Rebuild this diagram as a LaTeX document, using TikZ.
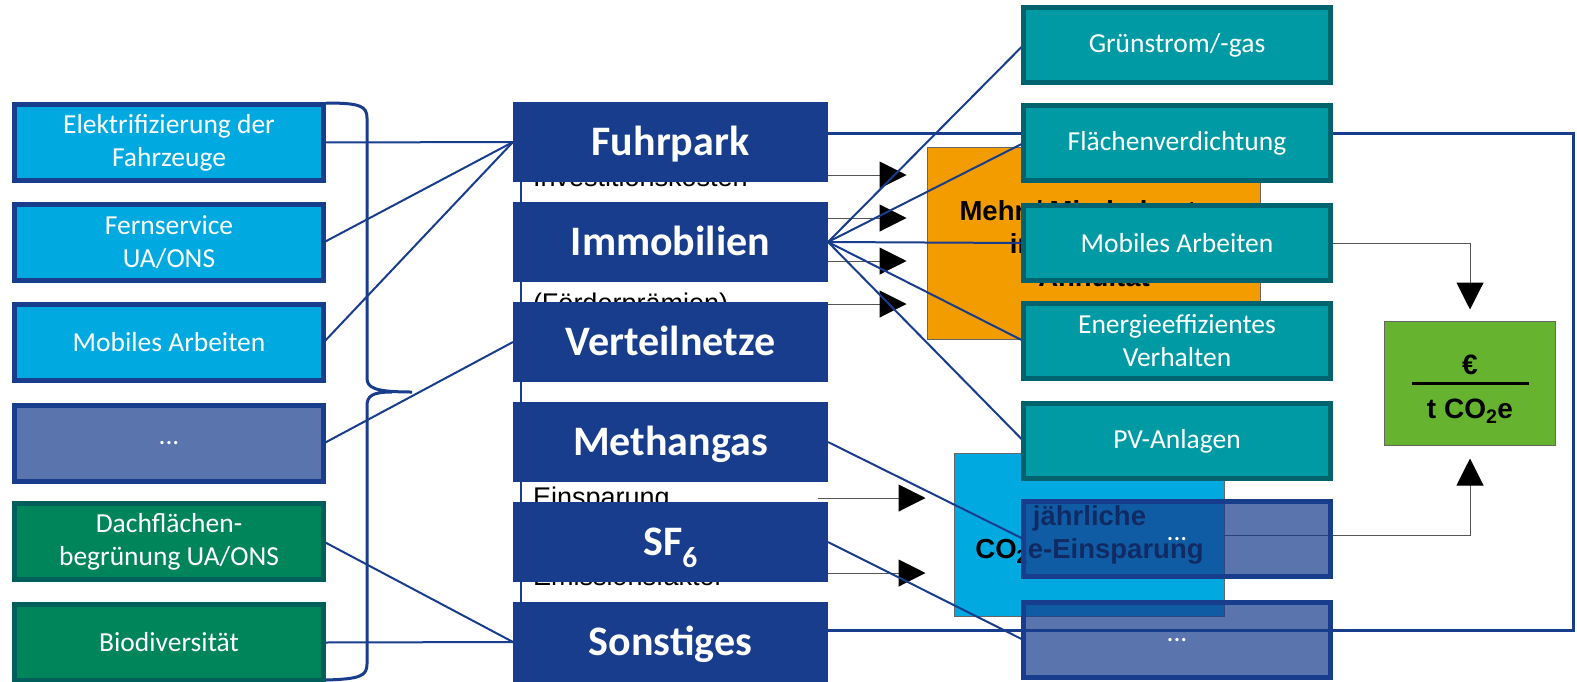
\documentclass[tikz,border=0pt]{standalone}
\usepackage{fontspec}
\setmainfont{Carlito}
\newfontfamily\arialfont{Liberation Sans}
\usetikzlibrary{positioning}
\usetikzlibrary{arrows.meta}
\definecolor{dsoblue}{HTML}{173D8C}
\definecolor{skyfill}{HTML}{00A9E0}
\definecolor{tealfill}{HTML}{009AA4}
\definecolor{tealedge}{HTML}{00636D}
\definecolor{greenfill}{HTML}{00855A}
\definecolor{greenedge}{HTML}{005F5A}
\definecolor{orangefill}{HTML}{F29C00}
\definecolor{limefill}{HTML}{65B32E}
\definecolor{arrowgray}{HTML}{555555}
\pgfdeclarelayer{back}
\pgfdeclarelayer{links}
\pgfsetlayers{back,links,main}
\tikzset{
        boxnode/.style={align=center, inner sep=0pt, outer sep=0pt},
        % Massnahmen (links)
        node_measure/.style={boxnode, draw=dsoblue, line width=5pt, fill=skyfill, text=white, minimum width=309pt, minimum height=76pt, font=\fontsize{27.5}{33}\selectfont},
        node_measure_more/.style={node_measure, fill=dsoblue, fill opacity=0.71, text opacity=1},
        node_measure_green/.style={node_measure, draw=greenedge, fill=greenfill},
        % Handlungsfelder (Mitte)
        node_field/.style={boxnode, fill=dsoblue, text=white, minimum width=315pt, minimum height=80pt, text height=30pt, text depth=3pt, font=\fontsize{42}{46}\selectfont\bfseries},
        % Hebel (rechts)
        node_lever/.style={boxnode, draw=tealedge, line width=5pt, fill=tealfill, text=white, minimum width=307pt, minimum height=75pt, font=\fontsize{27.5}{33}\selectfont},
        node_lever_more/.style={node_lever, draw=dsoblue, fill=dsoblue, fill opacity=0.71, text opacity=1},
        % Ergebnisboxen
        node_result/.style={boxnode, draw=black!60, line width=0.8pt, text=black, font=\arialfont\fontsize{27.5}{33}\selectfont\bfseries},
        node_hidden/.style={inner sep=0pt, outer sep=0pt, anchor=base west, font=\arialfont\fontsize{27}{32}\selectfont},
        line_link/.style={draw=dsoblue, line width=2pt},
        line_arrow/.style={draw=arrowgray, line width=1pt, -{Triangle[length=27pt, width=27pt, color=black]}}
}
\begin{document}
\begin{tikzpicture}[x=1pt, y=-1pt]
    \useasboundingbox (0,0) rectangle (1577,681);

    % Massnahmen
    \node[node_measure] (elektro) at (169,142.5) {Elektrifizierung der\\Fahrzeuge};
    \node[node_measure] (fernservice) at (169,242.5) {Fernservice\\UA/ONS};
    \node[node_measure] (mobil_left) at (169,342.5) {Mobiles Arbeiten};
    \node[node_measure_more] (more_left) at (169,443.5) {...};
    \node[node_measure_green] (dach) at (169,541.5) {Dachflächen-\\begrünung UA/ONS};
    \node[node_measure_green] (bio) at (169,642.5) {Biodiversität};

    % Handlungsfelder
    \node[node_field] (fuhrpark) at (670.5,142) {Fuhrpark};
    \node[node_field, below=20pt of fuhrpark] (immobilien) {Immobilien};
    \node[node_field, below=20pt of immobilien] (verteilnetze) {Verteilnetze};
    \node[node_field, below=20pt of verteilnetze] (methangas) {Methangas};
    \node[node_field, below=20pt of methangas] (sf6) {SF\textsubscript{6}};
    \node[node_field, below=20pt of sf6] (sonstiges) {Sonstiges};

    % Hebel
    \node[node_lever] (gruenstrom) at (1177,45) {Grünstrom/-gas};
    \node[node_lever] (flaeche) at (1177,143) {Flächenverdichtung};
    \node[node_lever] (mobil_right) at (1177,243) {Mobiles Arbeiten};
    \node[node_lever] (verhalten) at (1177,341) {Energieeffizientes\\Verhalten};
    \node[node_lever] (pv) at (1177,441) {PV-Anlagen};
    \node[node_lever_more] (more_right_a) at (1177,539) {...};
    \node[node_lever_more] (more_right_b) at (1177,640) {...};

    \begin{pgfonlayer}{back}
        % Rahmen und Klammer
        \coordinate (frame_corner) at (1573,133);
        \draw[line_link, line width=3pt] ([yshift=9pt]fuhrpark.east) -- (frame_corner) |- ([yshift=12pt]sonstiges.east);
        \draw[line_link, line width=3pt] (326,103) .. controls (360,103) and (367,106) .. (367,118) -- (367,378)
            .. controls (367,388) and (375,392) .. (412,392)
            (392,392) .. controls (372,392) and (367,396) .. (367,406) -- (367,664)
            .. controls (367,676) and (360,679) .. (326,680);
        \draw[line_link, line width=2.5pt] (521,150) -- (521,640);

        % Verdeckte Beschriftungen
        \node[node_hidden] (txt_invest) at (533,186) {Investitionskosten};
        \node[node_hidden] (txt_foerder) at (533,312) {(Förderprämien)};
        \node[node_hidden] (txt_einsparung) at (533,506) {Einsparung};
        \node[node_hidden] (txt_emission) at (533,585) {Emissionsfaktor};

        % Ergebnisse
        \node[node_result, fill=orangefill, minimum width=333pt, minimum height=192pt] (kosten) at (1094,243.5) {Mehr-/ Minderkosten\\inklusive der\\Annuität};
        \node[node_result, fill=skyfill, minimum width=270pt, minimum height=163pt] (einsparung) at (1089.5,535) {jährliche\\CO\textsubscript{2}e-Einsparung};
        \node[node_result, fill=limefill, minimum width=171pt, minimum height=124pt] (quotient) at (1470,383.5) {};
        \node[font=\arialfont\fontsize{28}{22}\selectfont\bfseries, align=center, inner sep=0pt] (quotient_text) at (1470,389) {€\\\rule[11pt]{117pt}{3pt}\\t CO\textsubscript{2}e};

        \foreach \y [count=\i] in {175,218,261,304}
            \draw[line_arrow, shorten >=21pt] (828,\y) coordinate (cost_\i) -- (cost_\i -| kosten.west);
        \draw[line_arrow, shorten >=29pt] (818,498) coordinate (save_1) -- (save_1 -| einsparung.west);
        \draw[line_arrow, shorten >=29pt] (828,573) coordinate (save_2) -- (save_2 -| einsparung.west);
        \draw[line_arrow, shorten >=12pt] (kosten.east) -| (quotient.north);
        \draw[line_arrow, shorten >=13pt] (einsparung.east) -| (quotient.south);
    \end{pgfonlayer}

    \begin{pgfonlayer}{links}
        \draw[line_link] (elektro.east) -- (fuhrpark.west);
        \draw[line_link] (fernservice.east) -- (fuhrpark.west);
        \draw[line_link] (mobil_left.east) -- (fuhrpark.west);
        \draw[line_link] (more_left.east) -- (verteilnetze.west);
        \draw[line_link] (dach.east) -- (sonstiges.west);
        \draw[line_link] (bio.east) -- (sonstiges.west);
        \foreach \target in {gruenstrom,flaeche,mobil_right,verhalten,pv}
            \draw[line_link] (immobilien.east) -- (\target.west);
        \draw[line_link] (methangas.east) -- (more_right_a.west);
        \draw[line_link] (sf6.east) -- (more_right_b.west);
    \end{pgfonlayer}
\end{tikzpicture}
\end{document}
